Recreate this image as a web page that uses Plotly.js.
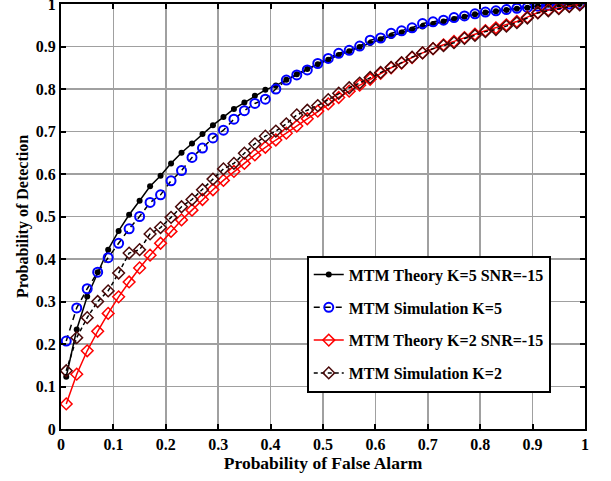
<!DOCTYPE html>
<html>
<head>
<meta charset="utf-8">
<script src="https://cdn.plot.ly/plotly-3.0.1.min.js"></script>
<style>html,body{margin:0;padding:0;background:#fff;}#chart{width:611px;height:481px;}</style>
</head>
<body>
<div id="chart"></div>
<script>
const pfa = [0.01,0.03,0.05,0.07,0.09,0.11,0.13,0.15,0.17,0.19,0.21,0.23,0.25,0.27,0.29,0.31,0.33,0.35,0.37,0.39,0.41,0.43,0.45,0.47,0.49,0.51,0.53,0.55,0.57,0.59,0.61,0.63,0.65,0.67,0.69,0.71,0.73,0.75,0.77,0.79,0.81,0.83,0.85,0.87,0.89,0.91,0.93,0.95,0.97,0.99];

const theoryK5 = [0.123,0.234,0.312,0.369,0.422,0.466,0.504,0.537,0.571,0.596,0.625,0.650,0.672,0.694,0.715,0.734,0.753,0.768,0.784,0.798,0.808,0.822,0.835,0.847,0.858,0.869,0.880,0.889,0.899,0.908,0.917,0.925,0.933,0.940,0.947,0.953,0.959,0.965,0.970,0.976,0.980,0.983,0.986,0.989,0.991,0.995,0.998,0.999,1.000,1.000];

const simK5 = [0.207,0.285,0.330,0.369,0.403,0.437,0.471,0.500,0.533,0.551,0.584,0.608,0.639,0.661,0.685,0.703,0.729,0.749,0.766,0.776,0.800,0.821,0.833,0.845,0.860,0.872,0.884,0.891,0.901,0.915,0.920,0.931,0.937,0.944,0.954,0.958,0.962,0.968,0.972,0.977,0.981,0.984,0.987,0.990,0.992,0.995,0.997,0.999,1.000,1.000];

const theoryK2 = [0.059,0.129,0.184,0.230,0.272,0.311,0.346,0.379,0.409,0.437,0.465,0.492,0.515,0.540,0.563,0.585,0.606,0.625,0.645,0.663,0.680,0.696,0.713,0.730,0.748,0.765,0.780,0.795,0.809,0.823,0.837,0.850,0.861,0.874,0.885,0.895,0.904,0.912,0.921,0.929,0.937,0.944,0.951,0.959,0.969,0.980,0.986,0.991,0.995,0.999];

const simK2 = [0.137,0.215,0.262,0.300,0.325,0.367,0.414,0.422,0.459,0.474,0.498,0.523,0.540,0.563,0.588,0.612,0.625,0.649,0.671,0.689,0.701,0.718,0.739,0.750,0.761,0.775,0.790,0.803,0.814,0.827,0.839,0.851,0.862,0.875,0.885,0.895,0.902,0.909,0.919,0.926,0.935,0.940,0.948,0.956,0.967,0.979,0.984,0.989,0.994,0.998];

const seriesNames = ["MTM Theory K=5 SNR=-15","MTM Simulation K=5","MTM Theory K=2 SNR=-15","MTM Simulation K=2"];
const tickVals = [0,0.1,0.2,0.3,0.4,0.5,0.6,0.7,0.8,0.9,1];
const tickText = ["0","0.1","0.2","0.3","0.4","0.5","0.6","0.7","0.8","0.9","1"];

const fontFam = '"Liberation Serif", "Times New Roman", serif';

const traces = [
  {x: pfa, y: theoryK5, name: seriesNames[0], legendgroup: 'a', mode: 'lines+markers',
   line: {color: '#000000', width: 1.5},
   marker: {symbol: 'circle', size: 6, color: '#000000'}},
  {x: pfa, y: simK5, name: seriesNames[1], legendgroup: 'b', mode: 'lines+markers',
   line: {color: '#000000', width: 1.5, dash: '6px,5px'},
   marker: {symbol: 'circle-open', size: 9, color: '#0000ff', line: {width: 2, color: '#0000ff'}}},
  {x: pfa, y: theoryK2, name: seriesNames[2], legendgroup: 'c', mode: 'lines+markers',
   line: {color: '#ff0000', width: 1.5},
   marker: {symbol: 'diamond-open', size: 9, color: '#ff0000', line: {width: 1.5, color: '#ff0000'}}},
  {x: pfa, y: simK2, name: seriesNames[3], legendgroup: 'd', mode: 'lines+markers',
   line: {color: '#000000', width: 1.5, dash: '4px,3px'},
   marker: {symbol: 'diamond-open', size: 9, color: '#4a0a0a', line: {width: 1.5, color: '#4a0a0a'}}}
];

const axisCommon = {
  range: [0, 1], tickvals: tickVals, ticktext: tickText,
  showgrid: true, gridcolor: '#a0a0a0', gridwidth: 1.5,
  zeroline: false, showline: true, linecolor: '#000000', linewidth: 2, mirror: 'ticks',
  ticks: 'inside', ticklen: 5, tickwidth: 2, tickcolor: '#000000',
  ticklabeloverflow: 'allow',
  tickfont: {family: fontFam, size: 16, color: '#000000', weight: 'bold'}
};

const layout = {
  width: 611, height: 481,
  margin: {l: 61, r: 26, t: 4, b: 52},
  paper_bgcolor: '#ffffff', plot_bgcolor: '#ffffff',
  showlegend: true,
  xaxis: Object.assign({}, axisCommon, {
    title: {text: 'Probability of False Alarm', font: {family: fontFam, size: 17.5, color: '#000000', weight: 'bold'}, standoff: 5}
  }),
  yaxis: Object.assign({}, axisCommon, {
    title: {text: 'Probability of Detection', font: {family: fontFam, size: 16, color: '#000000', weight: 'bold'}, standoff: 3}
  }),
  legend: {
    x: 0.469, y: 0.408, xanchor: 'left', yanchor: 'top',
    bgcolor: '#ffffff', bordercolor: '#000000', borderwidth: 2,
    font: {family: fontFam, size: 16, color: '#000000', weight: 'bold'},
    traceorder: 'grouped', tracegroupgap: 9, itemwidth: 30
  }
};

Plotly.newPlot('chart', traces, layout, {displayModeBar: false, staticPlot: true});
</script>
</body>
</html>
